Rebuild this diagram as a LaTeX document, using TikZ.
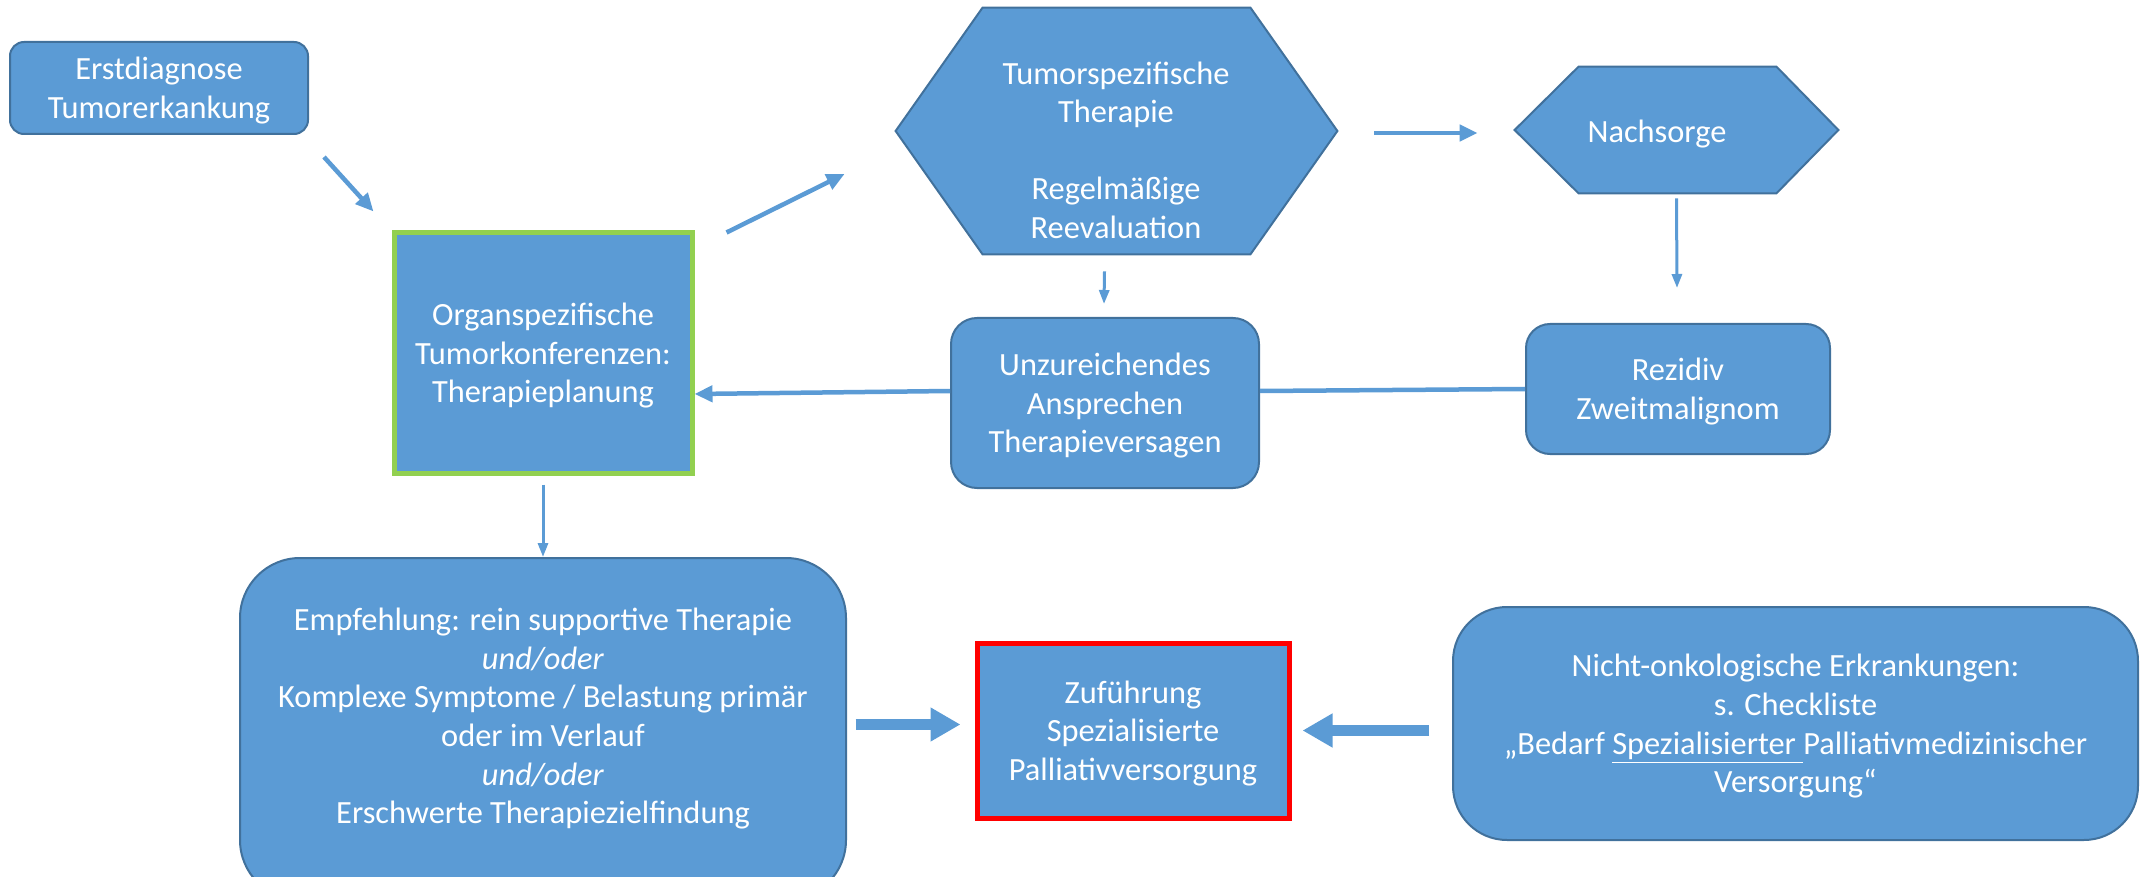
\documentclass[tikz,border=0pt]{standalone}
\usepackage{fontspec}
\setmainfont{Carlito}
\usetikzlibrary{arrows.meta,calc}
\definecolor{blu}{HTML}{5B9BD5}
\definecolor{bdr}{HTML}{41719C}
\definecolor{lgreen}{HTML}{92D050}
\begin{document}
\begin{tikzpicture}[x=0.5pt,y=-0.5pt,
  txt/.style={text=white,align=center,text depth=0pt,font=\fontsize{16.2}{19.3}\selectfont},
  box/.style={txt,draw=bdr,fill=blu,line width=1pt,inner sep=0pt},
  shapebox/.style={draw=none,inner sep=0pt},
  hexs/.style={draw=bdr,fill=blu,line width=1pt},
  arr/.style={draw=blu,line width=2.25pt,-{Triangle[length=9pt,width=8pt]}},
  thinarr/.style={draw=blu,line width=1.5pt,-{Triangle[length=7pt,width=5pt]}},
  plainline/.style={draw=blu,line width=2.25pt},
  blockarr/.style={draw=blu,line width=5.5pt,-{Triangle[length=15pt,width=16pt]}}]
\useasboundingbox (0,0) rectangle (2143,877);

% boxes
\node[box,rounded corners=7pt,minimum width=149pt,minimum height=46pt] (erst) at (159,88)
  {Erstdiagnose\\Tumorerkankung};
\node[box,draw=lgreen,line width=2.5pt,minimum width=149pt,minimum height=120pt] (org) at (543,353)
  {Organspezifische\\Tumorkonferenzen:\\Therapieplanung};

% big hexagon
\node[shapebox,minimum width=220.5pt,minimum height=123pt] (tum) at (1116.5,131) {};
\draw[hexs] (tum.west) -- ($(tum.north west)+(87,0)$) -- ($(tum.north east)+(-87,0)$)
  -- (tum.east) -- ($(tum.south east)+(-87,0)$) -- ($(tum.south west)+(87,0)$) -- cycle;
\node[txt] (tumtxt) at (1116,150) {Tumorspezifische\\Therapie\\[19.3pt]Regelmäßige\\Reevaluation};

% small hexagon
\node[shapebox,minimum width=161.5pt,minimum height=63pt] (nach) at (1676.5,130) {};
\draw[hexs] (nach.west) -- ($(nach.north west)+(64,0)$) -- ($(nach.north east)+(-62,0)$)
  -- (nach.east) -- ($(nach.south east)+(-62,0)$) -- ($(nach.south west)+(64,0)$) -- cycle;
\node[txt] (nachtxt) at (1657,131) {Nachsorge};

\node[box,rounded corners=13pt,minimum width=154pt,minimum height=85pt] (unz) at (1105,403)
  {Unzureichendes\\Ansprechen\\Therapieversagen};
\node[box,rounded corners=12pt,minimum width=152pt,minimum height=65pt] (rez) at (1678,389)
  {Rezidiv\\Zweitmalignom};

\node[box,rounded corners=30pt,minimum width=303pt,minimum height=171pt] (empf) at (543,729) {};
\node[txt] (empftxt) at (543,716) {Empfehlung: rein supportive Therapie\\\textit{und/oder}\\Komplexe Symptome / Belastung primär\\oder im Verlauf\\\textit{und/oder}\\Erschwerte Therapiezielfindung};

\node[box,draw=red,line width=2.5pt,minimum width=156pt,minimum height=87.5pt] (zuf) at (1133,730.5)
  {Zuführung\\Spezialisierte\\Palliativversorgung};

\node[box,rounded corners=27pt,minimum width=342.5pt,minimum height=116.5pt] (nicht) at (1795.5,723.5)
  {Nicht-onkologische Erkrankungen:\\s. Checkliste\\„Bedarf \underline{Spezialisierter\ }Palliativmedizinischer\\Versorgung“};

% connectors
\draw[arr] ($(erst.south east)+(15,22)$) -- ($(org.north west)+(-18,-19)$);
\draw[arr] ($(org.north east)+(32,2)$) -- ($(tum.west)+(-51,43)$);
\draw[arr] ($(tum.east)+(37,2)$) -- ($(nach.west)+(-37,3)$);
\draw[thinarr] ($(nach.south)+(0,5)$) -- ($(rez.north)+(-1,-35)$);
\draw[thinarr] ($(tum.south)+(-12,17)$) -- ($(unz.north)+(-1,-13)$);
\draw[plainline] (rez.west) -- ($(unz.east)+(0,-12)$);
\draw[arr] ($(unz.west)+(0,-12)$) -- ($(org.east)+(0,41)$);
\draw[thinarr] ($(org.south)+(0,9)$) -- (empf.north);
\draw[blockarr] ($(zuf.west)+(-119,-6)$) -- ($(zuf.west)+(-14,-6)$);
\draw[blockarr] ($(nicht.west)+(-23,7)$) -- ($(zuf.east)+(11,0)$);
\end{tikzpicture}
\end{document}
